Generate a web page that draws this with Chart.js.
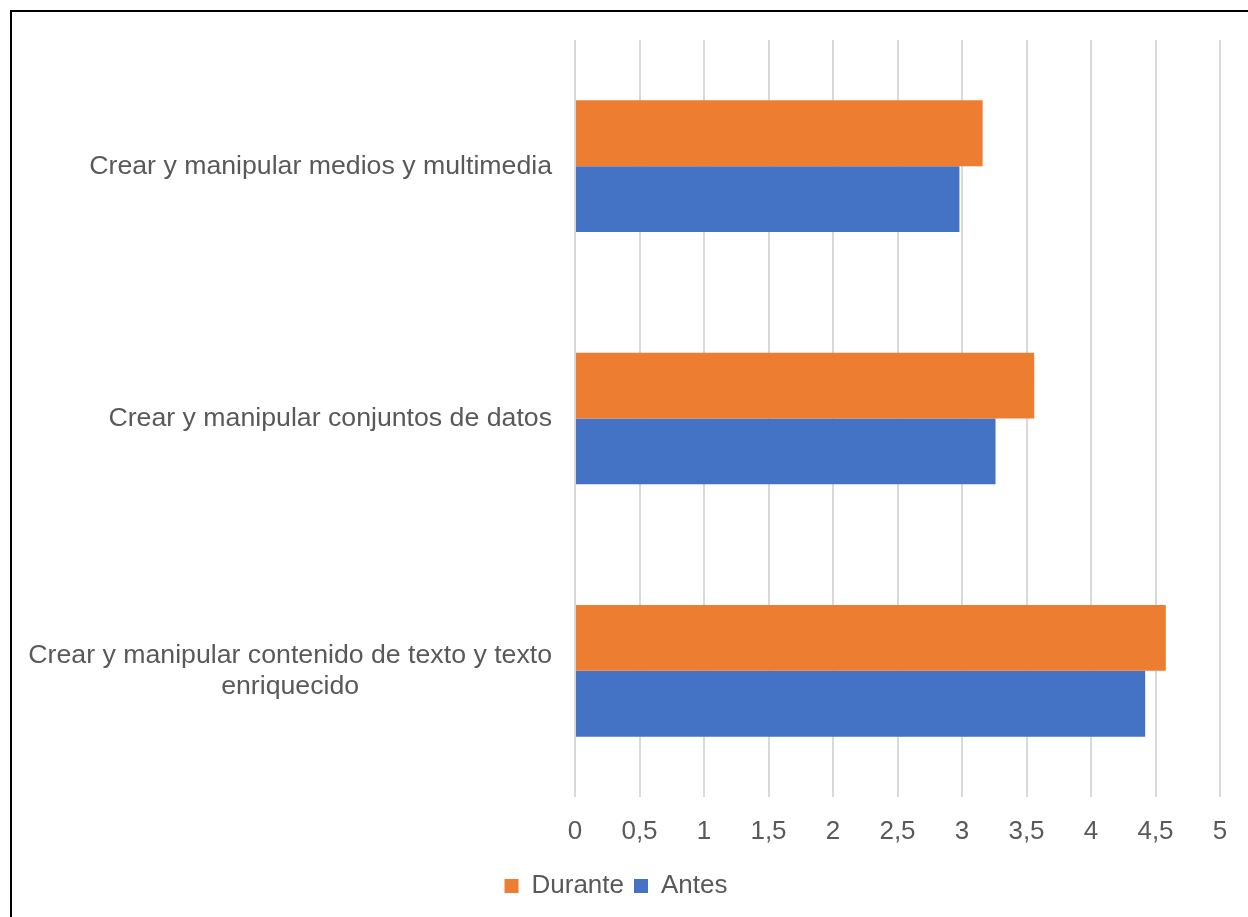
<!DOCTYPE html>
<html>
<head>
<meta charset="utf-8">
<script src="https://cdn.jsdelivr.net/npm/chart.js@4.4.1/dist/chart.umd.min.js"></script>
<style>
  html, body { margin: 0; padding: 0; background: #fff; overflow: hidden; }
  #frame {
    position: absolute;
    left: 10px;
    top: 10px;
    border-left: 2px solid #000;
    border-top: 2px solid #000;
    width: 1236px;
    height: 905px;
  }
  canvas { display: block; }
</style>
</head>
<body>
<div id="frame"><canvas id="chart" width="1236" height="905"></canvas></div>
<script>
// categories, top to bottom (multi-line labels as arrays)
const categories = [
    ['Crear y manipular medios y multimedia'],
    ['Crear y manipular conjuntos de datos'],
    ['Crear y manipular contenido de texto y texto', 'enriquecido']
];
const durante = [3.16, 3.56, 4.58];
const antes = [2.98, 3.26, 4.42];
const xTickLabels = ['0', '0,5', '1', '1,5', '2', '2,5', '3', '3,5', '4', '4,5', '5'];

const FONT = '"Liberation Sans", Arial, sans-serif';
const TEXT = '#595959';

// Excel-style category labels: block right aligned, lines centred inside it
const categoryLabels = {
    id: 'categoryLabels',
    afterDraw(chart) {
        const scale = chart.scales.y;
        const ctx = chart.ctx;
        const lh = 31;
        ctx.save();
        ctx.font = '26.7px ' + FONT;
        ctx.fillStyle = TEXT;
        ctx.textAlign = 'center';
        ctx.textBaseline = 'middle';
        const right = scale.right - 23;
        categories.forEach((lines, i) => {
            const y = scale.getPixelForTick(i);
            const w = Math.max(...lines.map(l => ctx.measureText(l).width));
            const cx = right - w / 2;
            const y0 = y - (lines.length - 1) * lh / 2;
            lines.forEach((l, j) => ctx.fillText(l, cx, y0 + j * lh));
        });
        ctx.restore();
    }
};

new Chart(document.getElementById('chart'), {
    type: 'bar',
    data: {
        labels: categories,
        datasets: [
            {
                label: 'Durante',
                data: durante,
                backgroundColor: '#ED7D31',
                categoryPercentage: 0.522,
                barPercentage: 1
            },
            {
                label: 'Antes',
                data: antes,
                backgroundColor: '#4472C4',
                categoryPercentage: 0.522,
                barPercentage: 1
            }
        ]
    },
    options: {
        indexAxis: 'y',
        responsive: false,
        animation: false,
        devicePixelRatio: 1,
        layout: { padding: { top: 28, right: 28, left: 0, bottom: 8 } },
        scales: {
            x: {
                min: 0,
                max: 5,
                ticks: {
                    stepSize: 0.5,
                    color: TEXT,
                    font: { family: FONT, size: 26 },
                    padding: 19,
                    maxRotation: 0,
                    callback: (v, i) => xTickLabels[i]
                },
                grid: { color: '#D9D9D9', lineWidth: 2, drawTicks: false },
                border: { display: false },
                afterFit: (scale) => { scale.height = 66; }
            },
            y: {
                ticks: { display: false },
                grid: { display: false, drawTicks: false },
                border: { display: false },
                afterFit: (scale) => { scale.width = 563; }
            }
        },
        plugins: {
            legend: {
                position: 'bottom',
                labels: {
                    color: TEXT,
                    font: { family: FONT, size: 26 },
                    boxWidth: 14,
                    boxHeight: 14,
                    padding: 10
                }
            },
            tooltip: { enabled: false }
        }
    },
    plugins: [categoryLabels]
});
</script>
</body>
</html>
